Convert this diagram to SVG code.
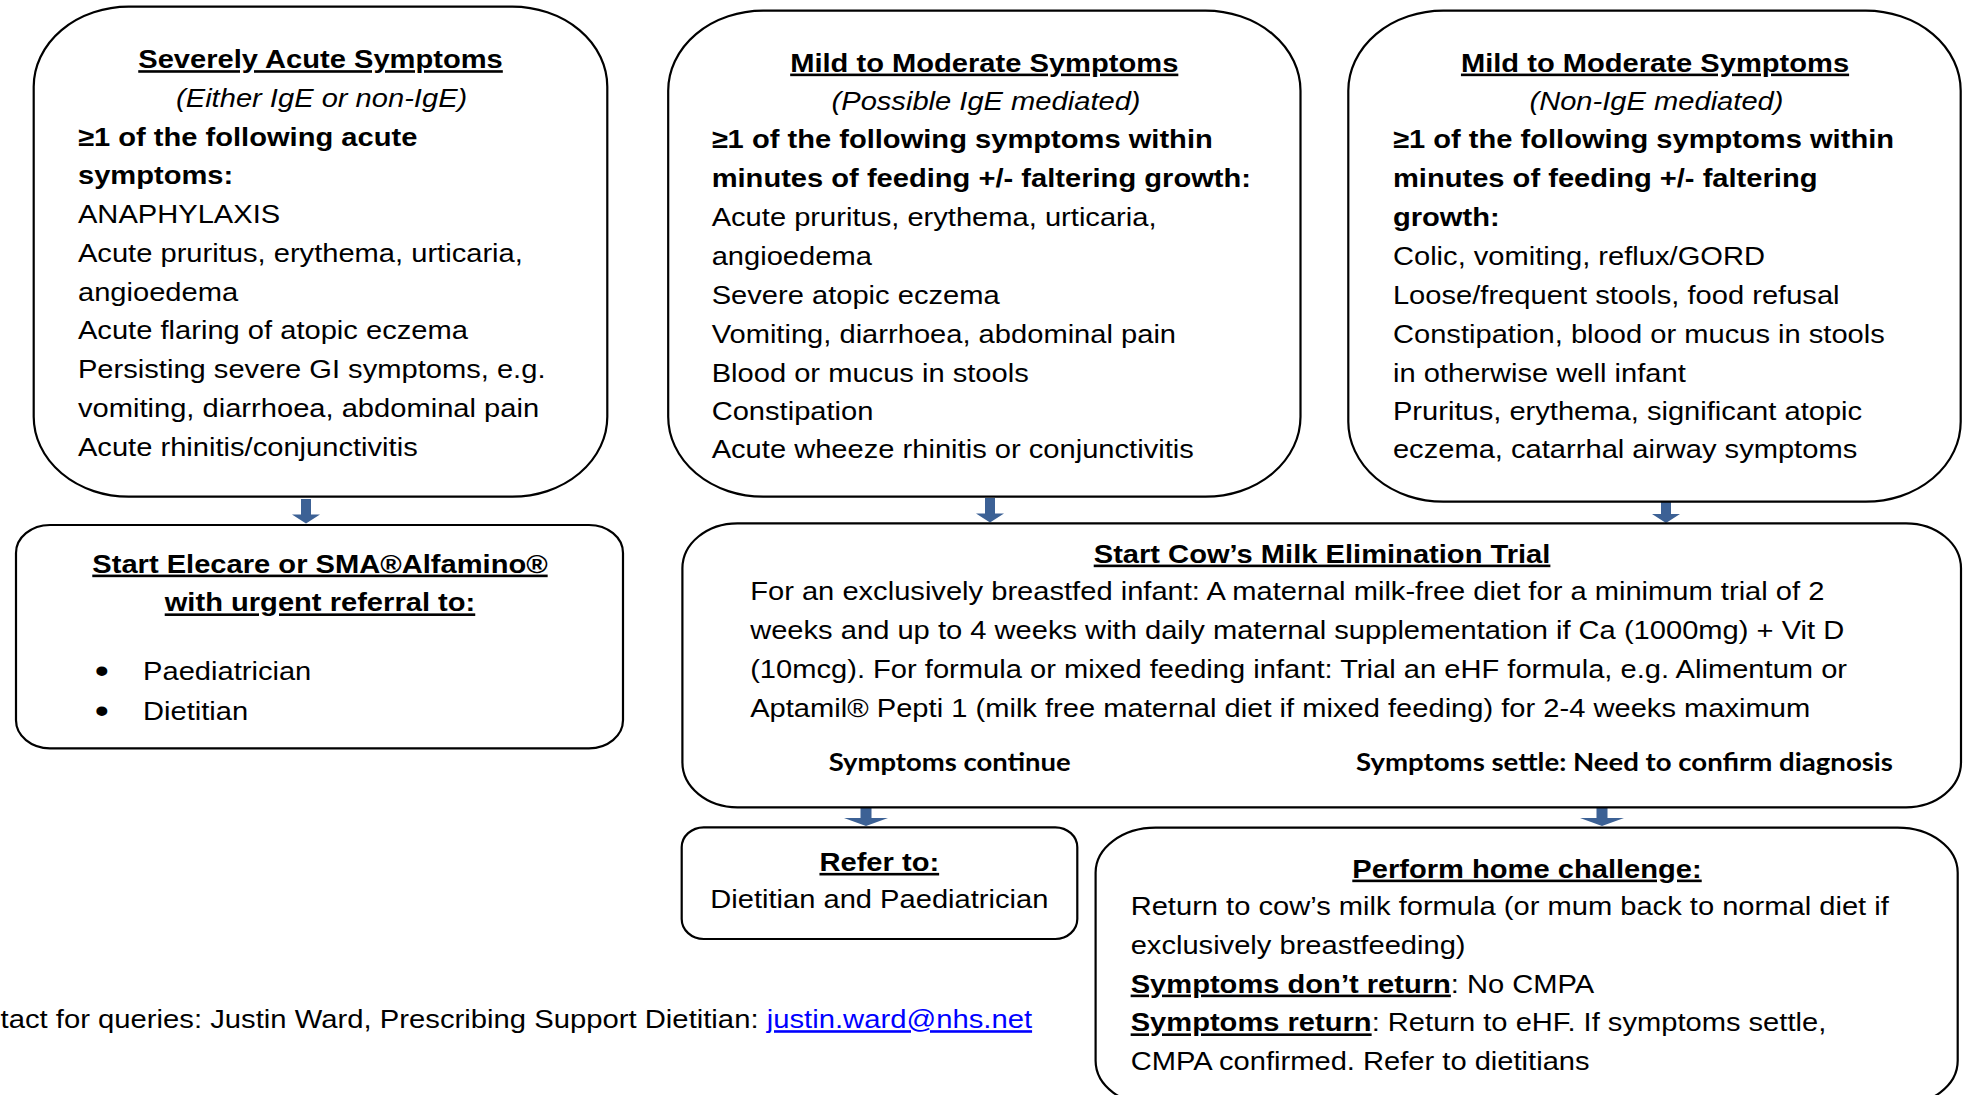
<svg xmlns="http://www.w3.org/2000/svg" width="1966" height="1095" viewBox="0 0 1966 1095">
<style>
.box{fill:#ffffff;stroke:#000000;stroke-width:2.2}
.arr{fill:#3C6195}
text{font-family:"Liberation Sans",Arial,sans-serif;font-size:26px;fill:#000000}
.b{font-weight:bold}
.i{font-style:italic}
.u{text-decoration:underline}
.c{text-anchor:middle}
.cal{font-family:Lato,"Open Sans",sans-serif;font-weight:bold;font-size:24px}
.link{fill:#0000FF;text-decoration:underline}
</style>
<rect width="1966" height="1095" fill="#ffffff"/>

<g id="connectors">
<polygon class="arr" points="301,499 311,499 311,514.5 320,514.5 306,523.5 292,514.5 301,514.5"/>
<polygon class="arr" points="985,498 995,498 995,513.5 1004,513.5 990,522.5 976,513.5 985,513.5"/>
<polygon class="arr" points="1661,499 1671,499 1671,514 1680,514 1666,523 1652,514 1661,514"/>
<polygon class="arr" points="860.5,808 871.5,808 871.5,818 888,818 866,826 844,818 860.5,818"/>
<polygon class="arr" points="1596.5,808 1607.5,808 1607.5,818 1624,818 1602,826 1580,818 1596.5,818"/>
</g>

<g id="severe">
<rect class="box" x="33.7" y="6.7" width="573.6" height="490" rx="95" ry="80"/>
<g transform="scale(1.12 1)">
<text class="b u c" x="286.2" y="68.3">Severely Acute Symptoms</text>
<text class="i c" x="287.2" y="107">(Either IgE or non-IgE)</text>
<text class="b" x="69.6" y="145.6">≥1 of the following acute</text>
<text class="b" x="69.6" y="184.4">symptoms:</text>
<text x="69.6" y="223">ANAPHYLAXIS</text>
<text x="69.6" y="262">Acute pruritus, erythema, urticaria,</text>
<text x="69.6" y="300.6">angioedema</text>
<text x="69.6" y="339.5">Acute flaring of atopic eczema</text>
<text x="69.6" y="378.2">Persisting severe GI symptoms, e.g.</text>
<text x="69.6" y="417">vomiting, diarrhoea, abdominal pain</text>
<text x="69.6" y="455.6">Acute rhinitis/conjunctivitis</text>
</g>
</g>

<g id="mild-ige">
<rect class="box" x="668.2" y="10.7" width="632.3" height="486" rx="95" ry="80"/>
<g transform="scale(1.12 1)">
<text class="b u c" x="878.8" y="71.7">Mild to Moderate Symptoms</text>
<text class="i c" x="880.4" y="110">(Possible IgE mediated)</text>
<text class="b" x="635.4" y="148.5">≥1 of the following symptoms within</text>
<text class="b" x="635.4" y="187.2">minutes of feeding +/- faltering growth:</text>
<text x="635.4" y="226.3">Acute pruritus, erythema, urticaria,</text>
<text x="635.4" y="265">angioedema</text>
<text x="635.4" y="304">Severe atopic eczema</text>
<text x="635.4" y="343">Vomiting, diarrhoea, abdominal pain</text>
<text x="635.4" y="381.6">Blood or mucus in stools</text>
<text x="635.4" y="420.4">Constipation</text>
<text x="635.4" y="458.4">Acute wheeze rhinitis or conjunctivitis</text>
</g>
</g>

<g id="mild-nonige">
<rect class="box" x="1348.3" y="10.7" width="612.4" height="491" rx="95" ry="80"/>
<g transform="scale(1.12 1)">
<text class="b u c" x="1477.7" y="71.7">Mild to Moderate Symptoms</text>
<text class="i c" x="1479" y="110">(Non-IgE mediated)</text>
<text class="b" x="1243.7" y="148.5">≥1 of the following symptoms within</text>
<text class="b" x="1243.7" y="187.2">minutes of feeding +/- faltering</text>
<text class="b" x="1243.7" y="226.3">growth:</text>
<text x="1243.7" y="265">Colic, vomiting, reflux/GORD</text>
<text x="1243.7" y="304">Loose/frequent stools, food refusal</text>
<text x="1243.7" y="343">Constipation, blood or mucus in stools</text>
<text x="1243.7" y="381.6">in otherwise well infant</text>
<text x="1243.7" y="420.4">Pruritus, erythema, significant atopic</text>
<text x="1243.7" y="458.4">eczema, catarrhal airway symptoms</text>
</g>
</g>

<g id="elecare">
<rect class="box" x="16" y="525" width="607" height="223.3" rx="34" ry="28"/>
<g transform="scale(1.12 1)">
<text class="b u c" x="285.7" y="572.7">Start Elecare or SMA®Alfamino®</text>
<text class="b u c" x="285.7" y="611.5">with urgent referral to:</text>
<text x="84.5" y="683" style="font-size:36px">•</text>
<text x="127.7" y="680">Paediatrician</text>
<text x="84.5" y="723" style="font-size:36px">•</text>
<text x="127.7" y="720">Dietitian</text>
</g>
</g>

<g id="elimination">
<rect class="box" x="682.4" y="523.3" width="1278.6" height="284" rx="55" ry="45"/>
<g transform="scale(1.12 1)">
<text class="b u c" x="1180.4" y="562.7">Start Cow’s Milk Elimination Trial</text>
<text x="669.8" y="600.5">For an exclusively breastfed infant: A maternal milk-free diet for a minimum trial of 2</text>
<text x="669.8" y="639.3">weeks and up to 4 weeks with daily maternal supplementation if Ca (1000mg) + Vit D</text>
<text x="669.8" y="678.2">(10mcg). For formula or mixed feeding infant: Trial an eHF formula, e.g. Alimentum or</text>
<text x="669.8" y="716.8">Aptamil® Pepti 1 (milk free maternal diet if mixed feeding) for 2-4 weeks maximum</text>
</g>
<text class="cal" x="828.7" y="770.5" textLength="242" lengthAdjust="spacingAndGlyphs">Symptoms continue</text>
<text class="cal" x="1356" y="770.5" textLength="537" lengthAdjust="spacingAndGlyphs">Symptoms settle: Need to confirm diagnosis</text>
</g>

<g id="refer">
<rect class="box" x="681.7" y="827.3" width="395.6" height="111.7" rx="22" ry="20"/>
<g transform="scale(1.12 1)">
<text class="b u c" x="785.1" y="871">Refer to:</text>
<text class="c" x="785.1" y="908.3">Dietitian and Paediatrician</text>
</g>
</g>

<g id="challenge">
<rect class="box" x="1095.6" y="827.7" width="862.1" height="278" rx="60" ry="45"/>
<g transform="scale(1.12 1)">
<text class="b u c" x="1363.4" y="877.7">Perform home challenge:</text>
<text x="1009.5" y="915">Return to cow’s milk formula (or mum back to normal diet if</text>
<text x="1009.5" y="954">exclusively breastfeeding)</text>
<text x="1009.5" y="992.7"><tspan class="b u">Symptoms don’t return</tspan>: No CMPA</text>
<text x="1009.5" y="1031.5"><tspan class="b u">Symptoms return</tspan>: Return to eHF. If symptoms settle,</text>
<text x="1009.5" y="1070">CMPA confirmed. Refer to dietitians</text>
</g>
</g>

<g id="contact">
<g transform="scale(1.12 1)">
<text x="0.5" y="1028.3" textLength="921" lengthAdjust="spacingAndGlyphs">tact for queries: Justin Ward, Prescribing Support Dietitian: <tspan class="link">justin.ward@nhs.net</tspan></text>
</g>
</g>
</svg>
